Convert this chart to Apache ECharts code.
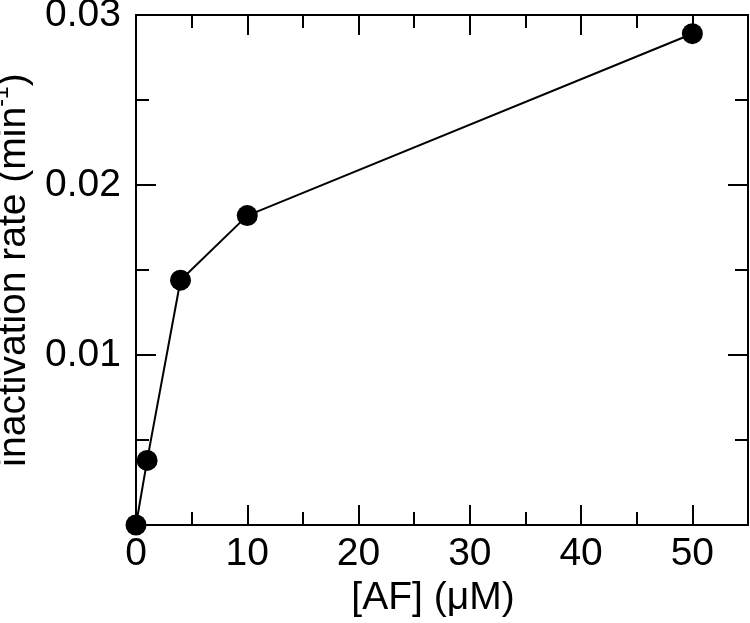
<!DOCTYPE html>
<html>
<head>
<meta charset="utf-8">
<script src="https://cdn.jsdelivr.net/npm/echarts@6/dist/echarts.min.js"></script>
<style>
html,body{margin:0;padding:0;background:#fff;}
#chart{width:750px;height:623px;}
</style>
</head>
<body>
<div id="chart"></div>
<script>
// Data
var concentrations = [0, 1, 4, 10, 50];            // [AF] (µM)
var inactivationRates = [0, 0.0038, 0.0144, 0.0182, 0.0289]; // min^-1
var xTickValues = [0, 10, 20, 30, 40, 50];
var yTickLabels = ['0.01', '0.02', '0.03'];

var points = concentrations.map(function (c, i) { return [c, inactivationRates[i]]; });

var FONT = '"Liberation Sans", Arial, Helvetica, sans-serif';
var FS = 39;

function xAxisDef(pos, interval, len, showLabel, showLine) {
  return {
    type: 'value', position: pos, min: 0, max: 55, interval: interval,
    axisLine: { show: showLine, onZero: false, lineStyle: { color: '#000', width: 2 } },
    axisTick: { show: true, inside: true, length: len, lineStyle: { color: '#000', width: 2 } },
    axisLabel: {
      show: showLabel, margin: 10, color: '#000', fontFamily: FONT, fontSize: FS,
      formatter: function (v) { return xTickValues.indexOf(v) >= 0 ? String(v) : ''; }
    },
    splitLine: { show: false }
  };
}
function yAxisDef(pos, interval, len, showLabel, showLine) {
  return {
    type: 'value', position: pos, min: 0, max: 0.03, interval: interval,
    axisLine: { show: showLine, onZero: false, lineStyle: { color: '#000', width: 2 } },
    axisTick: { show: true, inside: true, length: len, lineStyle: { color: '#000', width: 2 } },
    axisLabel: {
      show: showLabel, margin: 15, color: '#000', fontFamily: FONT, fontSize: FS,
      formatter: function (v) {
        var s = v.toFixed(2);
        return yTickLabels.indexOf(s) >= 0 ? s : '';
      }
    },
    splitLine: { show: false }
  };
}

var xMainBottom = xAxisDef('bottom', 10, 20, true, true);
xMainBottom.name = '[AF] (\u03bcM)';
xMainBottom.nameLocation = 'middle';
xMainBottom.nameGap = 51;
xMainBottom.nameTextStyle = { color: '#000', fontFamily: FONT, fontSize: FS, padding: [0, 18, 0, 0] };

var yMainLeft = yAxisDef('left', 0.01, 20, true, true);
yMainLeft.name = '{a|inactivation rate (min}{s|-1}{a|)}';
yMainLeft.nameLocation = 'middle';
yMainLeft.nameGap = 97;
yMainLeft.nameTextStyle = {
  color: '#000', fontFamily: FONT, fontSize: FS,
  rich: {
    a: { color: '#000', fontFamily: FONT, fontSize: FS, lineHeight: 44, verticalAlign: 'bottom' },
    s: { color: '#000', fontFamily: FONT, fontSize: 23, lineHeight: 10, verticalAlign: 'top' }
  }
};

var option = {
  animation: false,
  backgroundColor: '#fff',
  grid: { left: 136, right: 2, top: 15, bottom: 98, containLabel: false, outerBoundsMode: 'none' },
  xAxis: [
    xMainBottom,
    xAxisDef('bottom', 5, 13, false, false),
    xAxisDef('top', 10, 20, false, true),
    xAxisDef('top', 5, 13, false, false)
  ],
  yAxis: [
    yMainLeft,
    yAxisDef('left', 0.005, 13, false, false),
    yAxisDef('right', 0.01, 20, false, true),
    yAxisDef('right', 0.005, 13, false, false)
  ],
  series: [{
    type: 'line',
    data: points,
    xAxisIndex: 0, yAxisIndex: 0,
    clip: false,
    symbol: 'circle',
    symbolSize: 21,
    lineStyle: { color: '#000', width: 2 },
    itemStyle: { color: '#000' },
    z: 10
  }]
};

var chart = echarts.init(document.getElementById('chart'), null, { renderer: 'canvas' });
chart.setOption(option);
</script>
</body>
</html>
